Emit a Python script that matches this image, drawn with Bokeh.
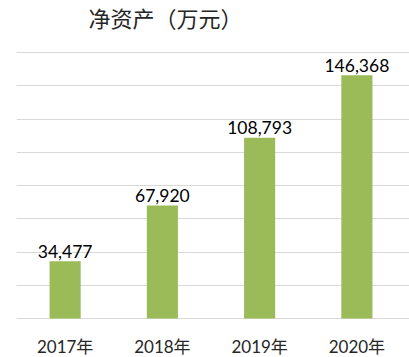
from bokeh.plotting import figure
from bokeh.models import ColumnDataSource, FixedTicker, Range1d, Label
from bokeh.core.properties import value
from bokeh.embed import file_html
from bokeh.resources import INLINE

title_text = "净资产（万元）"
categories = ["2017年", "2018年", "2019年", "2020年"]
values = [34477, 67920, 108793, 146368]
grid_ticks = [0, 20000, 40000, 60000, 80000, 100000, 120000, 140000, 160000]

# ---- layout (pixels) ----
W, H = 409, 357
plot_left, plot_right = 16, 405      # horizontal extent of the category slots
plot_top, plot_bottom = 52, 318      # pixel rows of the top gridline and the baseline

n = len(categories)
cat_px = (plot_right - plot_left) / n
y_max = grid_ticks[-1]
per_px = y_max / (plot_bottom - plot_top)
x_end = (W - plot_left) / cat_px
y_start = -(H - plot_bottom) * per_px
y_end = y_max + plot_top * per_px

xs = [i + 0.5 for i in range(n)]
labels = [f"{v:,}" for v in values]
zeros = [0] * n
source = ColumnDataSource(data=dict(x=xs, cat=categories, val=values, lab=labels, zero=zeros))

p = figure(
    width=W, height=H, x_range=Range1d(0, x_end), y_range=Range1d(y_start, y_end),
    output_backend="svg", toolbar_location=None,
    min_border_left=plot_left, min_border_right=0, min_border_top=0, min_border_bottom=0,
)
p.outline_line_color = None
p.background_fill_color = "white"
p.border_fill_color = "white"
p.xaxis.visible = False
p.yaxis.visible = False
p.xgrid.visible = False
p.ygrid.ticker = FixedTicker(ticks=grid_ticks)
p.ygrid.grid_line_color = "#D9D9D9"
p.ygrid.grid_line_width = 1

p.vbar(x="x", top="val", width=0.32, source=source, color="#9BBB59", line_color=None)

p.text(x="x", y="val", text="lab", source=source, y_offset=-10,
       text_align="center", text_baseline="alphabetic",
       text_font=value("Lato"), text_font_size="17.5px", text_color="#000000")

p.text(x="x", y="zero", text="cat", source=source, y_offset=28,
       text_align="center", text_baseline="alphabetic",
       text_font=value("Lato, Noto Sans CJK SC"), text_font_size="17px",
       text_color="#262626")

title = Label(x=88 - plot_left, x_units="screen", y=H - 16, y_units="screen",
              text=title_text, text_align="left", text_baseline="middle",
              text_font="Noto Sans CJK SC", text_font_size="22px", text_color="#262626")
p.add_layout(title)

open("out.html", "w").write(file_html(p, INLINE))
